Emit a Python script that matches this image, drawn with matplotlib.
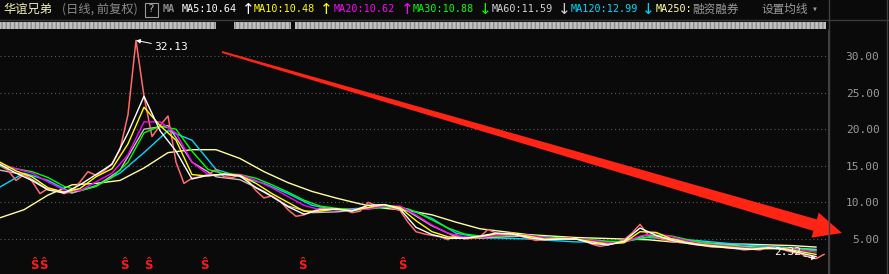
import numpy as np
import matplotlib.pyplot as plt
from matplotlib.patches import Polygon, Rectangle

# Texte de l'en-tête
stock_name = "华谊兄弟"
chart_mode = "(日线, 前复权)"
ma_names = ["MA5", "MA10", "MA20", "MA30", "MA60", "MA120"]
ma_values = [10.64, 10.48, 10.62, 10.88, 11.59, 12.99]
ma_arrows = ["↑", "↑", "↑", "↓", "↓", "↓"]
ma_colors = ["#ffffff", "#ffff00", "#ff00ff", "#00ff00", "#d0d0d0", "#00d8ff"]

# Cours (un point tous les 8 px environ)
price = [
    15.0, 14.4, 13.0, 13.8, 12.9, 11.2, 11.9, 11.6, 11.2, 11.5,
    12.8, 14.2, 13.7, 14.3, 15.3, 17.2, 22.0, 32.13, 24.5, 19.0,
    20.5, 21.8, 15.5, 12.6, 13.3, 13.5, 13.8, 14.5, 13.5, 13.4,
    13.7, 13.0, 11.6, 10.6, 10.9, 10.2, 9.0, 8.1, 8.3, 8.7,
    9.2, 9.2, 9.0, 9.0, 8.6, 8.8, 10.0, 9.6, 9.5, 9.2,
    8.9, 7.3, 6.0, 5.7, 5.5, 5.3, 4.9, 5.6, 5.0, 5.1,
    5.3, 6.3, 5.8, 5.7, 5.8, 5.4, 5.1, 4.8, 4.9, 5.0,
    5.0, 5.2, 5.0, 4.8, 4.3, 4.0, 4.2, 4.5, 4.9, 5.8,
    7.0, 5.6, 5.2, 4.9, 4.7, 4.5, 4.4, 4.2, 4.1, 3.9,
    3.9, 3.8, 3.7, 3.5, 3.6, 3.5, 3.9, 3.8, 3.5, 3.2,
    3.0, 2.6, 2.32, 2.9]

# Moyennes courtes (un point tous les 16 px)
ma5 = [15.2, 14.0, 13.0, 11.7, 11.3, 12.4, 13.8, 15.2, 19.5, 24.5,
       19.8, 17.0, 13.2, 13.7, 13.8, 13.6, 12.0, 10.8, 9.4, 8.4,
       9.0, 9.1, 8.8, 9.6, 9.7, 9.1, 6.6, 5.6, 5.1, 5.1,
       5.4, 5.8, 5.7, 5.2, 4.9, 5.0, 5.0, 4.4, 4.2, 4.7,
       6.5, 5.5, 4.8, 4.4, 4.1, 3.9, 3.7, 3.6, 3.8, 3.6,
       3.1, 2.6]
ma10 = [15.5, 14.3, 13.5, 12.0, 11.4, 11.9, 13.5, 14.6, 18.0, 23.0,
        20.5, 18.5, 13.8, 13.6, 13.9, 13.7, 12.6, 11.2, 10.0, 8.8,
        8.8, 9.1, 8.9, 9.3, 9.7, 9.3, 7.5, 6.0, 5.3, 5.1,
        5.3, 5.7, 5.7, 5.4, 5.0, 5.0, 5.0, 4.6, 4.3, 4.5,
        6.0, 5.9, 5.0, 4.5, 4.2, 4.0, 3.8, 3.6, 3.7, 3.7,
        3.3, 2.9]
ma20 = [15.3, 14.6, 14.0, 12.8, 11.7, 11.6, 12.8, 14.0, 16.5, 21.0,
        21.0, 19.5, 15.5, 13.8, 13.8, 13.8, 13.0, 12.0, 10.8, 9.6,
        9.0, 9.0, 9.0, 9.1, 9.5, 9.5, 8.3, 6.9, 5.8, 5.3,
        5.2, 5.5, 5.6, 5.5, 5.2, 5.0, 5.0, 4.8, 4.5, 4.5,
        5.4, 5.8, 5.3, 4.7, 4.3, 4.1, 3.9, 3.7, 3.7, 3.7,
        3.5, 3.2]
ma30 = [15.0, 14.6, 14.2, 13.4, 12.2, 11.6, 12.2, 13.4, 15.5, 19.5,
        20.4, 20.0, 17.0, 14.5, 13.9, 13.8, 13.3, 12.4, 11.4, 10.3,
        9.5, 9.2, 9.0, 9.1, 9.3, 9.4, 8.7, 7.6, 6.5, 5.7,
        5.4, 5.4, 5.5, 5.5, 5.3, 5.1, 5.0, 4.9, 4.7, 4.6,
        5.1, 5.5, 5.4, 4.9, 4.5, 4.2, 4.0, 3.8, 3.7, 3.7,
        3.6, 3.4]

# Moyennes longues (un point tous les 24 px)
ma60 = [14.4, 13.8, 11.8, 11.3, 12.2, 14.4, 20.0, 20.5, 15.5, 13.5,
        13.1, 11.5, 9.5, 8.6, 8.7, 9.0, 9.5, 8.8, 6.8, 5.3,
        5.1, 5.3, 5.4, 5.2, 5.0, 4.6, 4.6, 5.6, 5.0, 4.6,
        4.3, 4.0, 3.8, 3.7, 3.5]
ma120 = [12.1, 14.0, 13.0, 11.3, 12.3, 14.0, 16.8, 19.8, 18.5, 14.5,
         13.5, 12.6, 11.2, 9.6, 9.0, 9.2, 9.5, 9.1, 7.8, 5.8,
         5.2, 5.1, 5.0, 4.8, 4.6, 4.6, 4.7, 5.2, 5.0, 4.8,
         4.5, 4.2, 4.0, 3.8, 3.6]
ma250 = [7.9, 9.0, 11.0, 12.4, 12.6, 13.0, 14.7, 16.8, 17.2, 17.2,
         16.0, 14.2, 12.7, 11.5, 10.6, 9.8, 9.2, 8.9, 8.3, 7.3,
         6.4, 6.0, 5.6, 5.4, 5.2, 5.1, 5.0, 4.9, 4.6, 4.5,
         4.3, 4.3, 4.2, 4.1, 3.9]

s_marks = [4.25, 5.4, 15.5, 18.6, 25.6, 37.75, 50.25]
y_ticks = [5, 10, 15, 20, 25, 30]

x_fine = np.arange(len(price))
x_16 = np.arange(0, 104, 2)
x_24 = np.arange(0, 104, 3)

BG = "#0a0a0a"
W, H = 889, 274

fig = plt.figure(figsize=(W / 100, H / 100), dpi=100)
fig.patch.set_facecolor(BG)

ax = fig.add_axes([0, 0, 828 / W, 244 / H])
ax.set_facecolor(BG)
ax.set_xlim(0, 103.5)
ax.set_ylim(0.22, 33.55)

for v in y_ticks:
    ax.axhline(v, color="#5a5a5a", lw=0.8, ls=(0, (1, 2.5)), zorder=0)

ax.plot(x_24, ma250, color="#ffff99", lw=1)
ax.plot(x_24, ma120, color="#00d8ff", lw=1)
ax.plot(x_24, ma60, color="#c0c0c0", lw=1)
ax.plot(x_fine, price, color="#ff6a6a", lw=1.1)
ax.plot(x_16, ma30, color="#00ff00", lw=1)
ax.plot(x_16, ma20, color="#ff00ff", lw=1)
ax.plot(x_16, ma10, color="#ffff00", lw=1)
ax.plot(x_16, ma5, color="#ffffff", lw=1)

# plus haut / plus bas
i_hi = int(np.argmax(price))
i_lo = int(np.argmin(price))
ax.annotate(f"{price[i_hi]:.2f}", xy=(i_hi, price[i_hi]), xytext=(13, -5),
            textcoords="offset points", color="white", fontsize=8,
            family="DejaVu Sans Mono", ha="left", va="center",
            arrowprops=dict(arrowstyle="-|>", color="white", lw=0.7,
                            shrinkA=0, shrinkB=0, mutation_scale=6))
ax.annotate(f"{price[i_lo]:.2f}", xy=(i_lo, price[i_lo]), xytext=(-11, 4.5),
            textcoords="offset points", color="white", fontsize=8,
            family="DejaVu Sans Mono", ha="right", va="center",
            arrowprops=dict(arrowstyle="-|>", color="white", lw=0.7, ls="--",
                            shrinkA=0, shrinkB=0, mutation_scale=6))

for m in s_marks:
    ax.text(m, 0.035, "Ŝ", transform=ax.get_xaxis_transform(), color="#ff1a1a",
            fontsize=8.5, fontweight="bold", ha="center", va="center")

ax.yaxis.tick_right()
ax.set_yticks(y_ticks)
ax.set_yticklabels([f"{v:.2f}" for v in y_ticks], family="DejaVu Sans Mono",
                   fontsize=8, color="#9a9a9a")
for lab in ax.get_yticklabels():
    lab.set_horizontalalignment("right")
ax.tick_params(axis="y", length=0, pad=37)
ax.set_xticks([])
for s in ["top", "left", "bottom"]:
    ax.spines[s].set_visible(False)
ax.spines["right"].set_color("#404040")

# calque décoratif en pixels
deco = fig.add_axes([0, 0, 1, 1], zorder=5)
deco.set_xlim(0, W)
deco.set_ylim(H, 0)
deco.axis("off")
deco.patch.set_alpha(0)

deco.plot([0, W], [19.5, 19.5], color="#3a3a3a", lw=1)
deco.plot([828.5, 828.5], [0, H], color="#404040", lw=1)
deco.plot([886.5, 886.5], [0, H], color="#404040", lw=1)
deco.add_patch(Rectangle((0, 22), 826, 7, fc="#c0c0c0", ec="#8a8a8a", lw=0, hatch="||||"))
deco.add_patch(Rectangle((216, 22), 18, 7, color=BG, lw=0))
deco.add_patch(Rectangle((291, 22), 4, 7, color=BG, lw=0))

# grande flèche rouge
tail = np.array([222.0, 52.0])
tip = np.array([842.0, 233.0])
u = (tip - tail) / np.linalg.norm(tip - tail)
n = np.array([-u[1], u[0]])
base = tip - u * 28
pts = [tail - n * 1, base - n * 6, base - n * 13, tip, base + n * 13, base + n * 6, tail + n * 1]
deco.add_patch(Polygon(pts, closed=True, color="#ff2414", lw=0))

# en-tête
cjk = ["Noto Sans CJK SC", "DejaVu Sans"]
mono = ["DejaVu Sans Mono", "DejaVu Sans"]
deco.text(3, 9, stock_name, color="#f0f0b0", fontsize=8.8, family=cjk, va="center")
deco.text(62, 9, chart_mode, color="#8a8a8a", fontsize=8.8, family=cjk, va="center")
deco.add_patch(Rectangle((144.5, 2.5), 13, 14, fill=False, ec="#9a9a9a", lw=0.8))
deco.text(151, 9.5, "?", color="#b0b0b0", fontsize=8, family=mono, ha="center", va="center")
deco.text(163, 9, "MA", color="#8a8a8a", fontsize=7.3, family=mono, fontweight="bold", va="center")

name_x = [182, 254, 334, 413, 492, 571]
arrow_x = [242, 320, 401, 479, 558, 642]
for nm, val, ar, col, xa, xb in zip(ma_names, ma_values, ma_arrows, ma_colors, name_x, arrow_x):
    deco.text(xa, 9, f"{nm}:{val:.2f}", color=col, fontsize=7.3, family=mono, va="center")
    deco.text(xb, 9.5, ar, color=col, fontsize=11, family="DejaVu Sans", va="center")

deco.text(656, 9, "MA250:", color="#ffffa0", fontsize=7.3, family=mono, va="center")
deco.text(692, 9, "融资融券", color="#9a9a9a", fontsize=8.4, family=cjk, va="center")
deco.text(762, 9, "设置均线", color="#9a9a9a", fontsize=8.4, family=cjk, va="center")
deco.text(812, 9, "▾", color="#9a9a9a", fontsize=7, family=mono, va="center")

fig.savefig("out.png", dpi=100, facecolor=BG)
